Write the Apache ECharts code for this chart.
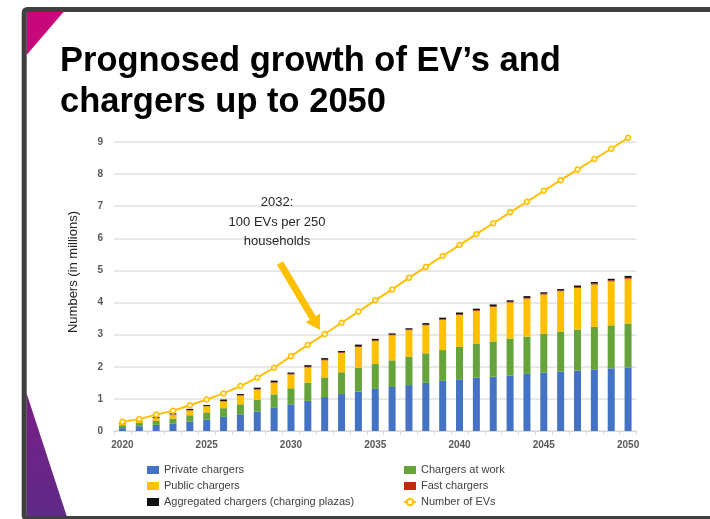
<!DOCTYPE html>
<html>
<head>
<meta charset="utf-8">
<style>
  html, body { margin: 0; padding: 0; background: #fff; }
  #chart { width: 710px; height: 519px; }
</style>
<script src="https://cdn.jsdelivr.net/npm/echarts@6/dist/echarts.min.js"></script>
</head>
<body>
<div id="chart"></div>
<script>
// Years on the horizontal axis
const years = ['2020','2021','2022','2023','2024','2025','2026','2027','2028','2029',
  '2030','2031','2032','2033','2034','2035','2036','2037','2038','2039',
  '2040','2041','2042','2043','2044','2045','2046','2047','2048','2049','2050'];

// Charger counts (millions), stacked from the bottom up
const privateChargers = [0.09,0.15,0.19,0.24,0.29,0.35,0.44,0.52,0.60,0.72,
  0.83,0.94,1.06,1.15,1.23,1.31,1.37,1.43,1.50,1.56,
  1.61,1.66,1.69,1.73,1.78,1.82,1.85,1.88,1.92,1.95,1.98];
const workChargers = [0.09,0.10,0.13,0.15,0.20,0.23,0.27,0.31,0.37,0.42,
  0.50,0.57,0.61,0.68,0.74,0.78,0.83,0.88,0.92,0.96,
  1.01,1.05,1.10,1.15,1.16,1.20,1.25,1.28,1.32,1.34,1.37];
const publicChargers = [0.04,0.05,0.08,0.12,0.15,0.19,0.21,0.27,0.32,0.36,
  0.43,0.47,0.53,0.60,0.64,0.71,0.78,0.83,0.87,0.94,
  0.99,1.03,1.07,1.12,1.18,1.23,1.25,1.29,1.32,1.37,1.39];
const fastChargers = [0.005,0.005,0.01,0.01,0.01,0.01,0.015,0.015,0.015,0.02,
  0.02,0.02,0.02,0.02,0.02,0.02,0.02,0.02,0.02,0.02,
  0.025,0.025,0.025,0.025,0.025,0.025,0.025,0.03,0.03,0.03,0.03];
const aggregatedChargers = [0.015,0.015,0.03,0.03,0.04,0.03,0.045,0.035,0.045,0.05,
  0.04,0.05,0.05,0.04,0.06,0.05,0.04,0.04,0.05,0.05,
  0.055,0.045,0.055,0.045,0.055,0.045,0.045,0.05,0.05,0.05,0.06];

// Number of EVs (millions)
const evCount = [0.29,0.37,0.51,0.63,0.80,0.98,1.17,1.40,1.66,1.97,
  2.33,2.68,3.02,3.37,3.72,4.07,4.41,4.77,5.11,5.45,
  5.79,6.13,6.47,6.81,7.14,7.48,7.81,8.14,8.47,8.79,9.13];

const yTicks = { min: 0, max: 9, interval: 1 };

const font = 'Liberation Sans, Arial, sans-serif';

// Thick annotation arrow pointing at the 2032 point
function arrowPoints(tail, tip, halfShaft, headLen, halfHead) {
  const dx = tip[0] - tail[0], dy = tip[1] - tail[1];
  const len = Math.hypot(dx, dy);
  const ux = dx / len, uy = dy / len;
  const px = -uy, py = ux;
  const bx = tip[0] - ux * headLen, by = tip[1] - uy * headLen;
  return [
    [tail[0] + px * halfShaft, tail[1] + py * halfShaft],
    [bx + px * halfShaft, by + py * halfShaft],
    [bx + px * halfHead, by + py * halfHead],
    [tip[0], tip[1]],
    [bx - px * halfHead, by - py * halfHead],
    [bx - px * halfShaft, by - py * halfShaft],
    [tail[0] - px * halfShaft, tail[1] - py * halfShaft]
  ];
}

const chart = echarts.init(document.getElementById('chart'), null, { renderer: 'canvas' });

function barSeries(name, data, color) {
  return {
    name, type: 'bar', stack: 'chargers', data,
    barWidth: 7,
    itemStyle: { color },
    emphasis: { disabled: true }
  };
}

const legendText = { color: '#404040', fontSize: 11, fontFamily: font, lineHeight: 13 };

const option = {
  animation: false,
  backgroundColor: '#ffffff',
  grid: { left: 114, right: 73.5, top: 142, bottom: 88 },
  xAxis: {
    type: 'category',
    data: years,
    boundaryGap: true,
    axisLine: { lineStyle: { color: '#D9D9D9', width: 1 } },
    axisTick: { show: true, interval: 0, length: 4, lineStyle: { color: '#D9D9D9' } },
    axisLabel: {
      interval: 4, margin: 9,
      color: '#595959', fontSize: 10, fontWeight: 'bold', fontFamily: font
    },
    splitLine: { show: false }
  },
  yAxis: {
    type: 'value',
    min: yTicks.min, max: yTicks.max, interval: yTicks.interval,
    axisLine: { show: false },
    axisTick: { show: false },
    axisLabel: { margin: 11, color: '#595959', fontSize: 10, fontWeight: 'bold', fontFamily: font },
    splitLine: { lineStyle: { color: '#E0E0E0', width: 1.5 } }
  },
  legend: [
    {
      orient: 'vertical', left: 142, top: 458.5,
      itemWidth: 12, itemHeight: 8, itemGap: 3,
      textStyle: legendText,
      data: [
        { name: 'Private chargers', icon: 'rect' },
        { name: 'Public chargers', icon: 'rect' },
        { name: 'Aggregated chargers (charging plazas)', icon: 'rect' }
      ]
    },
    {
      orient: 'vertical', left: 398, top: 458.5,
      itemWidth: 12, itemHeight: 8, itemGap: 3,
      textStyle: legendText,
      data: [
        { name: 'Chargers at work', icon: 'rect' },
        { name: 'Fast chargers', icon: 'rect' },
        { name: 'Number of EVs' }
      ]
    }
  ],
  series: [
    barSeries('Private chargers', privateChargers, '#4472C4'),
    barSeries('Chargers at work', workChargers, '#66A33B'),
    barSeries('Public chargers', publicChargers, '#FFC000'),
    barSeries('Fast chargers', fastChargers, '#C8260A'),
    barSeries('Aggregated chargers (charging plazas)', aggregatedChargers, '#111111'),
    {
      name: 'Number of EVs', type: 'line', data: evCount,
      clip: false,
      symbol: 'circle', symbolSize: 5,
      lineStyle: { color: '#FFC000', width: 2 },
      itemStyle: { color: '#FFF4CC', borderColor: '#FFC000', borderWidth: 1.5 },
      emphasis: { disabled: true },
      z: 5
    }
  ],
  graphic: [
    // slide corner decorations
    { type: 'polygon', z: 1, shape: { points: [[26.5, 12], [63.5, 12], [26.5, 55]] },
      style: { fill: '#C8077A' } },
    { type: 'polygon', z: 1, shape: { points: [[26.5, 393], [67, 517], [26.5, 517]] },
      style: { fill: new echarts.graphic.LinearGradient(0, 0, 0, 1, [
        { offset: 0, color: '#7A1E86' }, { offset: 1, color: '#5F2A88' }]) } },
    // slide frame
    { type: 'rect', z: 2, shape: { x: 24.2, y: 9.5, width: 700, height: 509, r: 3 },
      style: { fill: null, stroke: '#404040', lineWidth: 5 } },
    // slide title
    { type: 'text', z: 3, left: 60, top: 44,
      style: { text: 'Prognosed growth of EV\u2019s and', fill: '#000', font: 'bold 34.5px ' + font } },
    { type: 'text', z: 3, left: 60, top: 85,
      style: { text: 'chargers up to 2050', fill: '#000', font: 'bold 34.5px ' + font } },
    // y-axis title
    { type: 'text', z: 3, x: 73, y: 272, rotation: Math.PI / 2,
      style: { text: 'Numbers (in millions)', fill: '#262626', font: '13px ' + font,
        align: 'center', verticalAlign: 'middle' } },
    // annotation
    { type: 'text', z: 3, x: 277, y: 222,
      style: { text: '2032:\n100 EVs per 250\nhouseholds', fill: '#262626', font: '13px ' + font,
        lineHeight: 19.5, align: 'center', verticalAlign: 'middle' } },
    { type: 'polygon', z: 3,
      shape: { points: arrowPoints([280, 263], [320, 330], 3.5, 14, 8.5) },
      style: { fill: '#FFC000' } }
  ]
};

chart.setOption(option);
</script>
</body>
</html>
